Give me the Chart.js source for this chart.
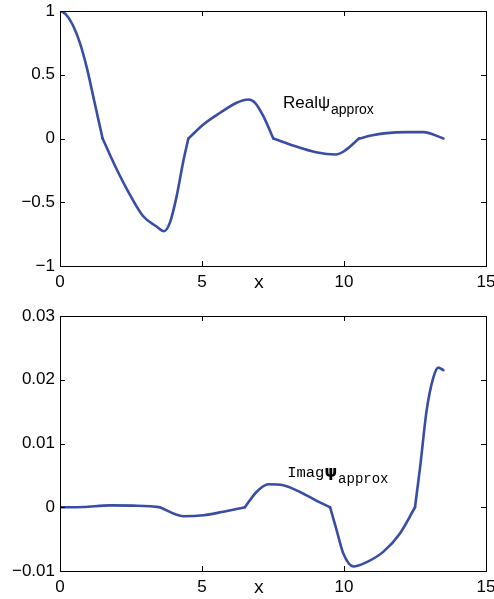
<!DOCTYPE html>
<html>
<head>
<meta charset="utf-8">
<script src="https://cdn.jsdelivr.net/npm/chart.js@4.4.1/dist/chart.umd.min.js"></script>
<style>
  body { margin: 0; background: #fff; }
  canvas { position: absolute; left: 0; }
  #realChart { top: 0; }
  #imagChart { top: 300px; }
</style>
</head>
<body>
<canvas id="realChart" width="494" height="300"></canvas>
<canvas id="imagChart" width="494" height="299"></canvas>
<script>
// ----------------- DATA -----------------
// Real part; knots are where the pieces join (sharp corners)
var realX = [0, 0.2, 0.45, 0.7, 0.95, 1.2, 1.5,
             2.0, 2.46, 2.93, 3.4, 3.66, 3.87, 4.11, 4.34, 4.52,
             5.05, 5.63, 6.22, 6.63, 6.87, 7.16, 7.51,
             8.1, 9.06, 9.71, 10.0, 10.53,
             11.0, 11.41, 12.23, 12.8, 13.5];
var realY = [1, 0.975, 0.89, 0.75, 0.55, 0.30, 0,
             -0.243, -0.44, -0.61, -0.69, -0.727, -0.66, -0.45, -0.18, 0,
             0.11, 0.20, 0.28, 0.306, 0.28, 0.175, 0,
             -0.047, -0.11, -0.125, -0.1, 0,
             0.025, 0.04, 0.05, 0.05, 0];
var realKnots = [1.5, 4.52, 7.51, 10.53];

// Imaginary part
var imagX = [0, 0.82, 1.76, 2.58, 3.17, 3.52,
             4.34, 5.05, 5.75, 6.51,
             6.92, 7.34, 7.86, 8.45, 9.04, 9.51,
             9.74, 9.98, 10.33, 10.8, 11.38, 11.97, 12.5,
             12.68, 12.91, 13.15, 13.32, 13.5];
var imagY = [0, 0.00005, 0.0003, 0.00025, 0.00016, 0,
             -0.0014, -0.00125, -0.0007, 0,
             0.0024, 0.0036, 0.00345, 0.0024, 0.001, 0,
             -0.0036, -0.0073, -0.0093, -0.0086, -0.007, -0.0041, 0,
             0.0063, 0.0152, 0.0204, 0.0219, 0.0215];
var imagKnots = [3.52, 6.51, 9.51, 12.5];

var xTicks = [0, 5, 10, 15];
var realTicks = [-1, -0.5, 0, 0.5, 1];
var imagTicks = [-0.01, 0, 0.01, 0.02, 0.03];

// ----------------- HELPERS -----------------
var LINE_COLOR = 'rgb(57, 77, 165)';
var TICK_FONT = { family: 'Liberation Sans', size: 17 };

// splits the curve into smooth pieces at the knots
function toSegments(xs, ys, knots) {
    var segs = [], cur = [];
    for (var i = 0; i < xs.length; i++) {
        cur.push({ x: xs[i], y: ys[i] });
        if (knots.indexOf(xs[i]) >= 0) {
            segs.push(cur);
            cur = [{ x: xs[i], y: ys[i] }];
        }
    }
    if (cur.length > 1) segs.push(cur);
    return segs.map(function(s) {
        return {
            data: s,
            borderColor: LINE_COLOR,
            borderWidth: 2.6,
            borderCapStyle: 'round',
            pointRadius: 0,
            fill: false,
            cubicInterpolationMode: 'monotone'
        };
    });
}

function fmt(v) {
    var s = String(Math.round(v * 1000) / 1000);
    return s.replace('-', '\u2212');
}

// box + inward ticks on all four sides, like matlab
var boxPlugin = {
    id: 'box',
    afterDraw: function(chart) {
        var ctx = chart.ctx, a = chart.chartArea;
        var xs = chart.scales.x, ys = chart.scales.y;
        var tl = 5;
        ctx.save();
        ctx.strokeStyle = '#000';
        ctx.lineWidth = 1;
        ctx.strokeRect(Math.round(a.left) + 0.5, Math.round(a.top) + 0.5,
                       Math.round(a.right - a.left), Math.round(a.bottom - a.top));
        ctx.beginPath();
        xs.ticks.forEach(function(t) {
            var px = Math.round(xs.getPixelForValue(t.value)) + 0.5;
            ctx.moveTo(px, a.bottom); ctx.lineTo(px, a.bottom - tl);
            ctx.moveTo(px, a.top); ctx.lineTo(px, a.top + tl);
        });
        ys.ticks.forEach(function(t) {
            var py = Math.round(ys.getPixelForValue(t.value)) + 0.5;
            ctx.moveTo(a.left, py); ctx.lineTo(a.left + tl, py);
            ctx.moveTo(a.right, py); ctx.lineTo(a.right - tl, py);
        });
        ctx.stroke();

        // x axis label sits on the tick label row
        ctx.fillStyle = '#000';
        ctx.font = '18px "Liberation Mono"';
        ctx.textAlign = 'center';
        ctx.textBaseline = 'alphabetic';
        ctx.fillText('x', xs.getPixelForValue(7), a.bottom + 22);

        // curve annotation
        var ann = chart.options.plugins.box.ann;
        var lx = xs.getPixelForValue(ann.x), ly = ys.getPixelForValue(ann.y);
        ctx.textAlign = 'left';
        ctx.font = ann.font;
        ctx.fillText(ann.main, lx, ly);
        var w = ctx.measureText(ann.main).width;
        ctx.font = ann.psiFont;
        ctx.fillText('\u03C8', lx + w, ly);
        w += ctx.measureText('\u03C8').width + 1;
        ctx.font = ann.subFont;
        ctx.fillText('approx', lx + w, ly + 6);
        ctx.restore();
    }
};

function drawChart(id, xs, ys, knots, yTicks, pad, xHeight, ann) {
    return new Chart(document.getElementById(id), {
        type: 'line',
        data: { datasets: toSegments(xs, ys, knots) },
        options: {
            responsive: false,
            animation: false,
            events: [],
            layout: { padding: pad },
            plugins: {
                legend: { display: false },
                tooltip: { enabled: false },
                box: { ann: ann }
            },
            scales: {
                x: {
                    type: 'linear',
                    min: 0, max: 15,
                    afterBuildTicks: function(s) { s.ticks = xTicks.map(function(v) { return { value: v }; }); },
                    ticks: { font: TICK_FONT, color: '#000', padding: 6, maxRotation: 0,
                             callback: function(v) { return fmt(v); } },
                    grid: { display: false, drawTicks: false },
                    border: { display: false },
                    afterFit: function(s) { s.height = xHeight; s.paddingLeft = 0; s.paddingRight = 0; }
                },
                y: {
                    type: 'linear',
                    min: yTicks[0], max: yTicks[yTicks.length - 1],
                    afterBuildTicks: function(s) { s.ticks = yTicks.map(function(v) { return { value: v }; }); },
                    ticks: { font: TICK_FONT, color: '#000', padding: 5,
                             callback: function(v) { return fmt(v); } },
                    grid: { display: false, drawTicks: false },
                    border: { display: false },
                    afterFit: function(s) { s.width = 60; s.paddingTop = 0; s.paddingBottom = 0; }
                }
            }
        },
        plugins: [boxPlugin]
    });
}

drawChart('realChart', realX, realY, realKnots, realTicks, { top: 11, right: 8, left: 0, bottom: 0 }, 34,
    { x: 7.85, y: 0.24, main: 'Real', font: '17px "Liberation Sans"',
      psiFont: '17px "Liberation Sans"', subFont: '14px "Liberation Sans"' });
drawChart('imagChart', imagX, imagY, imagKnots, imagTicks, { top: 16, right: 8, left: 0, bottom: 0 }, 28,
    { x: 8.0, y: 0.0048, main: 'Imag', font: '15.5px "Liberation Mono"',
      psiFont: 'bold 16px "DejaVu Sans"', subFont: '14px "Liberation Mono"' });
</script>
</body>
</html>
